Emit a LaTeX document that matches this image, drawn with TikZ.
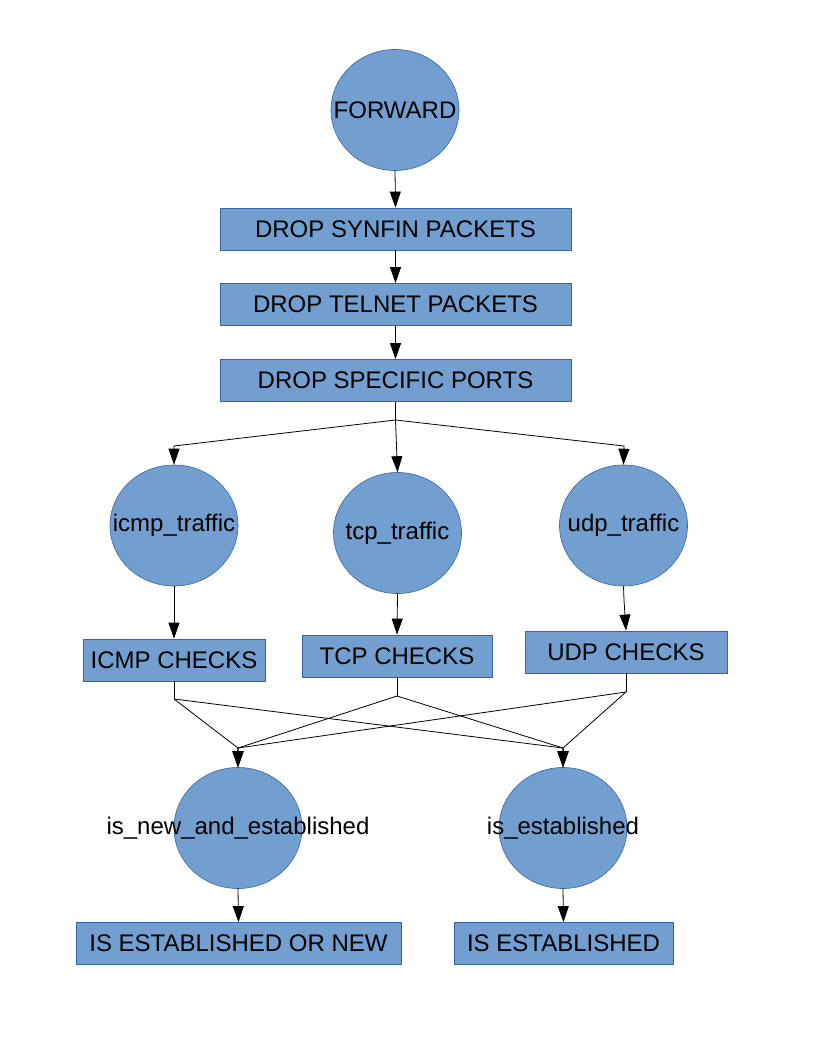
\documentclass[tikz,border=0pt]{standalone}
\usepackage{fontspec}
\setmainfont{Liberation Sans}
\usetikzlibrary{shapes.geometric,arrows.meta}
\definecolor{boxfill}{HTML}{729FCF}
\definecolor{boxline}{HTML}{3465A4}
\begin{document}
\begin{tikzpicture}[x=1pt,y=-1pt,
  txt/.style={font=\fontsize{24}{28}\selectfont},
  blob/.style={ellipse,draw=boxline,fill=boxfill,line width=0.6pt,inner sep=0pt,
    minimum width=128pt,minimum height=121pt},
  stage/.style={rectangle,draw=boxline,fill=boxfill,line width=0.8pt,inner sep=0pt,
    minimum height=42pt,txt},
  link/.style={draw=black,line width=0.8pt},
  arr/.style={link,-{Triangle[length=16pt,width=11pt]}}]
\useasboundingbox (0,0) rectangle (816,1056);

% top of the chain
\node[blob,label={[txt]center:FORWARD}] (fwd) at (395,110) {};
\node[stage,minimum width=351pt] (synfin) at (395.5,229) {DROP SYNFIN PACKETS};
\node[stage,minimum width=351pt] (telnet) at (395.5,304.5) {DROP TELNET PACKETS};
\node[stage,minimum width=351pt] (ports) at (395.5,380.5) {DROP SPECIFIC PORTS};

% per-protocol branches
\node[blob,label={[txt]center:icmp\_traffic}] (icmp) at (174,525.5) {};
\node[blob,label={[txt]center:tcp\_traffic}] (tcp) at (397.5,533) {};
\node[blob,label={[txt]center:udp\_traffic}] (udp) at (623.5,525.5) {};

\node[stage,minimum width=182pt] (icmpchk) at (174,660) {ICMP CHECKS};
\node[stage,minimum width=190pt] (tcpchk) at (397,656) {TCP CHECKS};
\node[stage,minimum width=202pt] (udpchk) at (626,652) {UDP CHECKS};

% connection state
\node[blob,label={[txt]center:is\_new\_and\_established}] (newest) at (238,828) {};
\node[blob,label={[txt]center:is\_established}] (est) at (563,828) {};

\node[stage,minimum width=325pt] (orNew) at (238.5,943.5) {IS ESTABLISHED OR NEW};
\node[stage,minimum width=219pt] (isEst) at (563.5,943.5) {IS ESTABLISHED};

% routing points
\coordinate (split) at (395.5,420);
\coordinate (toIcmp) at (174,446);
\coordinate (toUdp) at (624,446);
\coordinate (udpBend) at (624,600);
\coordinate (jIcmp) at (174,699);
\coordinate (jTcp) at (397,696);
\coordinate (jUdp) at (626,692);
\coordinate (toNew) at (238,748);
\coordinate (toEst) at (563,748);

% connectors
\draw[arr] (fwd.south) -- (synfin.north);
\draw[arr] (synfin.south) -- (telnet.north);
\draw[arr] (telnet.south) -- (ports.north);

\draw[link] (ports.south) -- (split);
\draw[arr] (split) -- (toIcmp) -- (icmp.north);
\draw[arr] (split) -- (tcp.north);
\draw[arr] (split) -- (toUdp) -- (udp.north);

\draw[arr] (icmp.south) -- (icmpchk.north);
\draw[arr] (tcp.south) -- (tcpchk.north);
\draw[arr] (udp.south) -- (udpBend) -- (udpchk.north);

\draw[link] (icmpchk.south) -- (jIcmp);
\draw[link] (tcpchk.south) -- (jTcp);
\draw[link] (udpchk.south) -- (jUdp);
\foreach \j in {jIcmp,jTcp,jUdp}{
  \draw[arr] (\j) -- (toNew) -- (newest.north);
  \draw[arr] (\j) -- (toEst) -- (est.north);
}

\draw[arr] (newest.south) -- (orNew.north);
\draw[arr] (est.south) -- (isEst.north);
\end{tikzpicture}
\end{document}
